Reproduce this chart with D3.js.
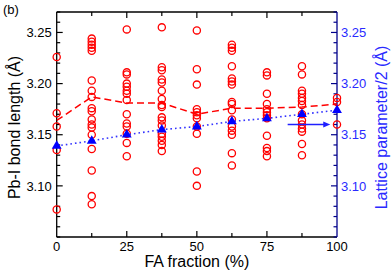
<!DOCTYPE html>
<html><head><meta charset="utf-8">
<script src="https://cdn.jsdelivr.net/npm/d3@7"></script>
<style>
html,body{margin:0;padding:0;background:#fff;}
svg{display:block;font-family:"Liberation Sans",Arial,sans-serif;}
</style></head>
<body><svg id="chart" width="392" height="273"></svg>
<script>
// ---- data ----
const fractions = [0, 12.5, 25, 37.5, 50, 62.5, 75, 87.5, 100];
const bondLengths = [
  [3.226, 3.171, 3.158, 3.135, 3.077],
  [3.244, 3.241, 3.238, 3.235, 3.232, 3.203, 3.193, 3.187, 3.176, 3.173, 3.165, 3.160, 3.157, 3.150, 3.136, 3.115, 3.090, 3.082],
  [3.253, 3.211, 3.209, 3.200, 3.197, 3.193, 3.190, 3.184, 3.170, 3.161, 3.158, 3.151, 3.142, 3.129],
  [3.255, 3.216, 3.213, 3.204, 3.201, 3.193, 3.185, 3.179, 3.177, 3.167, 3.164, 3.159, 3.151, 3.148, 3.144, 3.140, 3.134],
  [3.252, 3.214, 3.199, 3.175, 3.172, 3.169, 3.166, 3.158, 3.151, 3.114, 3.100],
  [3.238, 3.235, 3.232, 3.217, 3.205, 3.202, 3.199, 3.182, 3.180, 3.174, 3.165, 3.158, 3.154, 3.150, 3.132, 3.120],
  [3.211, 3.208, 3.190, 3.180, 3.175, 3.172, 3.169, 3.166, 3.149, 3.137, 3.134, 3.129],
  [3.217, 3.209, 3.193, 3.190, 3.186, 3.183, 3.179, 3.170, 3.164, 3.160, 3.156, 3.153, 3.141, 3.130],
  [3.186, 3.182, 3.160]
];
const meanBond = [3.164, 3.187, 3.181, 3.181, 3.170, 3.176, 3.176, 3.177, 3.180];
const latticeHalf = [3.139, 3.144, 3.150, 3.155, 3.158, 3.163, 3.166, 3.170, 3.174];
const xMajorTicks = [0, 25, 50, 75, 100];
const xMinorTicks = [12.5, 37.5, 62.5, 87.5];
const yMajorTicks = [3.10, 3.15, 3.20, 3.25];
const arrowFrom = [82.4, 3.160];
const arrowTo = [97.6, 3.160];

// ---- layout ----
const svg = d3.select("#chart");
const m = {left: 56.7, right: 337, top: 12, bottom: 237};
const x = d3.scaleLinear().domain([0, 100]).range([m.left, m.right]);
const y = d3.scaleLinear().domain([3.05, 3.27]).range([m.bottom, m.top]);
const yR = d3.scaleLinear().domain([3.05, 3.27]).range([m.bottom, m.top]);

const RED = "#ff0000", BLUE = "#0000ff", NAVY = "#00008b", BLUETXT = "#2a2aff";
const yMinor = d3.range(3.05, 3.2701, 0.01).map(v => +v.toFixed(2)).filter(v => !yMajorTicks.includes(v));

// frame: left, top, bottom black; right navy
const g = svg.append("g");
g.append("line").attr("x1", m.left).attr("x2", m.left).attr("y1", m.top).attr("y2", m.bottom).attr("stroke", "#000").attr("stroke-width", 1.3);
g.append("line").attr("x1", m.left).attr("x2", m.right).attr("y1", m.top).attr("y2", m.top).attr("stroke", "#000").attr("stroke-width", 1.3);
g.append("line").attr("x1", m.left).attr("x2", m.right).attr("y1", m.bottom).attr("y2", m.bottom).attr("stroke", "#000").attr("stroke-width", 1.3);
g.append("line").attr("x1", m.right).attr("x2", m.right).attr("y1", m.top).attr("y2", m.bottom).attr("stroke", NAVY).attr("stroke-width", 1.3);

// x ticks (inward, top and bottom)
function xt(vals, len) {
  vals.forEach(v => {
    g.append("line").attr("x1", x(v)).attr("x2", x(v)).attr("y1", m.bottom).attr("y2", m.bottom - len).attr("stroke", "#000").attr("stroke-width", 1.2);
    g.append("line").attr("x1", x(v)).attr("x2", x(v)).attr("y1", m.top).attr("y2", m.top + len).attr("stroke", "#000").attr("stroke-width", 1.2);
  });
}
xt(xMajorTicks.slice(1, -1), 6);
xt(xMinorTicks, 4);
g.selectAll(".xl").data(xMajorTicks).join("text")
  .attr("x", d => x(d)).attr("y", 250.5).attr("text-anchor", "middle")
  .attr("font-size", 13).attr("fill", "#000").text(d => d);

// left y ticks
yMajorTicks.forEach(v => g.append("line").attr("x1", m.left).attr("x2", m.left + 6).attr("y1", y(v)).attr("y2", y(v)).attr("stroke", "#000").attr("stroke-width", 1.2));
yMinor.forEach(v => g.append("line").attr("x1", m.left).attr("x2", m.left + 3.5).attr("y1", y(v)).attr("y2", y(v)).attr("stroke", "#000").attr("stroke-width", 1.2));
g.selectAll(".yl").data(yMajorTicks).join("text")
  .attr("x", m.left - 5).attr("y", d => y(d) + 4.7).attr("text-anchor", "end")
  .attr("font-size", 13).attr("fill", "#000").text(d => d.toFixed(2));

// right y ticks
yMajorTicks.forEach(v => g.append("line").attr("x1", m.right).attr("x2", m.right - 6).attr("y1", yR(v)).attr("y2", yR(v)).attr("stroke", NAVY).attr("stroke-width", 1.2));
yMinor.forEach(v => g.append("line").attr("x1", m.right).attr("x2", m.right - 3.5).attr("y1", yR(v)).attr("y2", yR(v)).attr("stroke", NAVY).attr("stroke-width", 1.2));
g.selectAll(".yr").data(yMajorTicks).join("text")
  .attr("x", m.right + 4).attr("y", d => yR(d) + 4.7).attr("text-anchor", "start")
  .attr("font-size", 13).attr("fill", BLUETXT).text(d => d.toFixed(2));

// titles
svg.append("text").attr("x", 3).attr("y", 14).attr("font-size", 13).text("(b)");
svg.append("text").attr("transform", `translate(20,${(m.top + m.bottom) / 2 + 3}) rotate(-90)`)
  .attr("text-anchor", "middle").attr("font-size", 16).text("Pb-I bond length (Å)");
svg.append("text").attr("transform", `translate(387,${(m.top + m.bottom) / 2 + 3}) rotate(-90)`)
  .attr("text-anchor", "middle").attr("font-size", 16).attr("fill", BLUETXT).text("Lattice parameter/2 (Å)");
svg.append("text").attr("x", (m.left + m.right) / 2).attr("y", 266.5).attr("text-anchor", "middle")
  .attr("font-size", 16).text("FA fraction (%)");

// scatter circles
const pts = [];
fractions.forEach((f, i) => bondLengths[i].forEach(v => pts.push([f, v])));
svg.append("g").selectAll("circle").data(pts).join("circle")
  .attr("cx", d => x(d[0])).attr("cy", d => y(d[1])).attr("r", 3.6)
  .attr("fill", "none").attr("stroke", RED).attr("stroke-width", 1.3);

// mean dashed line
svg.append("path").datum(fractions.map((f, i) => [f, meanBond[i]]))
  .attr("d", d3.line().x(d => x(d[0])).y(d => y(d[1])))
  .attr("fill", "none").attr("stroke", RED).attr("stroke-width", 1.5).attr("stroke-dasharray", "7,4");

// lattice dotted line + triangles
const lat = fractions.map((f, i) => [f, latticeHalf[i]]);
svg.append("path").datum(lat)
  .attr("d", d3.line().x(d => x(d[0])).y(d => yR(d[1])))
  .attr("fill", "none").attr("stroke", "#3333ff").attr("stroke-width", 1.6).attr("stroke-dasharray", "1.6,3");
svg.append("g").selectAll("path").data(lat).join("path")
  .attr("transform", d => `translate(${x(d[0])},${yR(d[1])})`)
  .attr("d", d3.symbol().type(d3.symbolTriangle).size(42))
  .attr("fill", BLUE);

// arrow
const ax1 = x(arrowFrom[0]), ay = yR(arrowFrom[1]), ax2 = x(arrowTo[0]);
svg.append("line").attr("x1", ax1).attr("x2", ax2 - 5).attr("y1", ay).attr("y2", ay).attr("stroke", "#2020ff").attr("stroke-width", 1.3);
svg.append("path").attr("d", `M${ax2},${ay} L${ax2 - 7},${ay - 3} L${ax2 - 7},${ay + 3} Z`).attr("fill", "#2020ff");
</script></body></html>
